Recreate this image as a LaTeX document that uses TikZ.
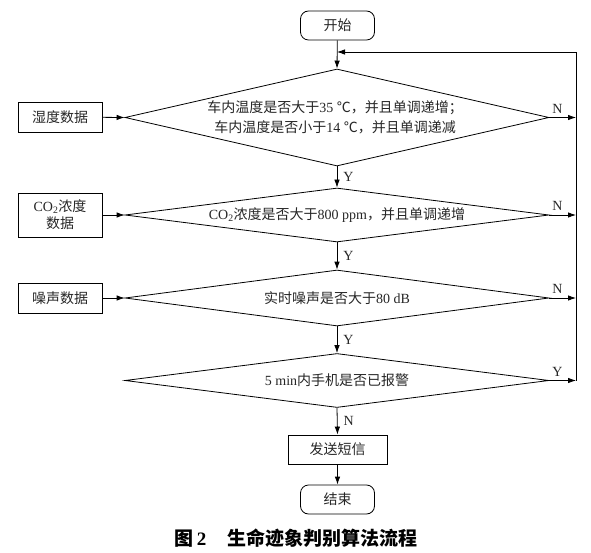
\documentclass[tikz,border=0pt]{standalone}
\usepackage{fontspec}
\setmainfont{Liberation Serif}
\newfontfamily\cjk{Noto Sans CJK SC}
\usetikzlibrary{shapes.geometric,arrows.meta}
\newcommand\zhtxt[1]{{\cjk #1}}
\begin{document}
\begin{tikzpicture}[x=1pt,y=-1pt,
  line width=0.8pt,
  txt/.style={text=black!85, font=\fontsize{14}{20}\selectfont, inner sep=0pt, align=center},
  term/.style={draw, rounded corners=8pt, minimum width=74pt, minimum height=29pt, txt},
  proc/.style={draw, minimum width=84pt, txt},
  dia/.style={draw, diamond, inner sep=0pt},
  arr/.style={-{Latex[length=8pt,width=5.5pt]}},
  lab/.style={txt, font=\fontsize{14}{16}\selectfont}
]
\useasboundingbox (0,0) rectangle (591,553);

% terminals and processes
\node[term] (start) at (337.5,25.5) {\zhtxt{开始}};
\node[proc, minimum height=30pt] (hum) at (60,117) {\zhtxt{湿度数据}};
\node[proc, minimum height=44pt, font=\fontsize{14}{17}\selectfont] (co2) at (60,215) {CO\textsubscript{2}\zhtxt{浓度}\\\zhtxt{数据}};
\node[proc, minimum height=30pt] (noise) at (60,298) {\zhtxt{噪声数据}};
\node[draw, minimum width=99pt, minimum height=29pt, txt] (sms) at (337.5,449.5) {\zhtxt{发送短信}};
\node[term] (end) at (337.5,499.5) {\zhtxt{结束}};

% decisions
\node[dia, minimum width=424pt, minimum height=97pt] (d1) at (337,117.5) {};
\node[txt] at (335,117.5) {\zhtxt{车内温度是否大于}35 \zhtxt{℃，并且单调递增；}\\\zhtxt{车内温度是否小于}14 \zhtxt{℃，并且单调递减}};
\node[dia, minimum width=424pt, minimum height=54pt] (d2) at (337,215) {};
\node[txt] at (337,215) {CO\textsubscript{2}\zhtxt{浓度是否大于}800 ppm\zhtxt{，并且单调递增}};
\node[dia, minimum width=424pt, minimum height=56pt] (d3) at (337,298) {};
\node[txt] at (337,298) {\zhtxt{实时噪声是否大于}80 dB};
\node[dia, minimum width=424pt, minimum height=54pt] (d4) at (337,380.5) {};
\node[txt] at (337,380.5) {5 min\zhtxt{内手机是否已报警}};

% right rail coordinates
\coordinate (r0) at (576,52);
\coordinate (r1) at (576,117.5);
\coordinate (r2) at (576,215);
\coordinate (r3) at (576,298);
\coordinate (r4) at (576,380.5);
\coordinate (m0) at (337,52);

% main flow
\draw[arr] (start) -- (d1.north);
\draw[arr] (d1.south) -- node[lab, right=6pt] {Y} (d2.north);
\draw[arr] (d2.south) -- node[lab, right=6pt] {Y} (d3.north);
\draw[arr] (d3.south) -- node[lab, right=6pt] {Y} (d4.north);
\draw[arr] (d4.south) -- node[lab, right=6pt] {N} (sms.north);
\draw[arr] (sms) -- (end);

% inputs
\draw[arr] (hum) -- (d1.west);
\draw[arr] (co2) -- (d2.west);
\draw[arr] (noise) -- (d3.west);

% N / Y exits
\draw[arr] (d1.east) -- node[lab, above=4pt, pos=0.3] {N} (r1);
\draw[arr] (d2.east) -- node[lab, above=4pt, pos=0.3] {N} (r2);
\draw[arr] (d3.east) -- node[lab, above=4pt, pos=0.3] {N} (r3);
\draw[arr] (d4.east) -- node[lab, above=4pt, pos=0.3] {Y} (r4);
\draw[arr] (r4) -- (r0) -- (m0);

% caption
\node[font=\fontsize{19}{22}\selectfont\bfseries, inner sep=0pt] (cap) at (296,538) {\zhtxt{图}\,2\hspace{1.1em}\zhtxt{生命迹象判别算法流程}};
\end{tikzpicture}
\end{document}
